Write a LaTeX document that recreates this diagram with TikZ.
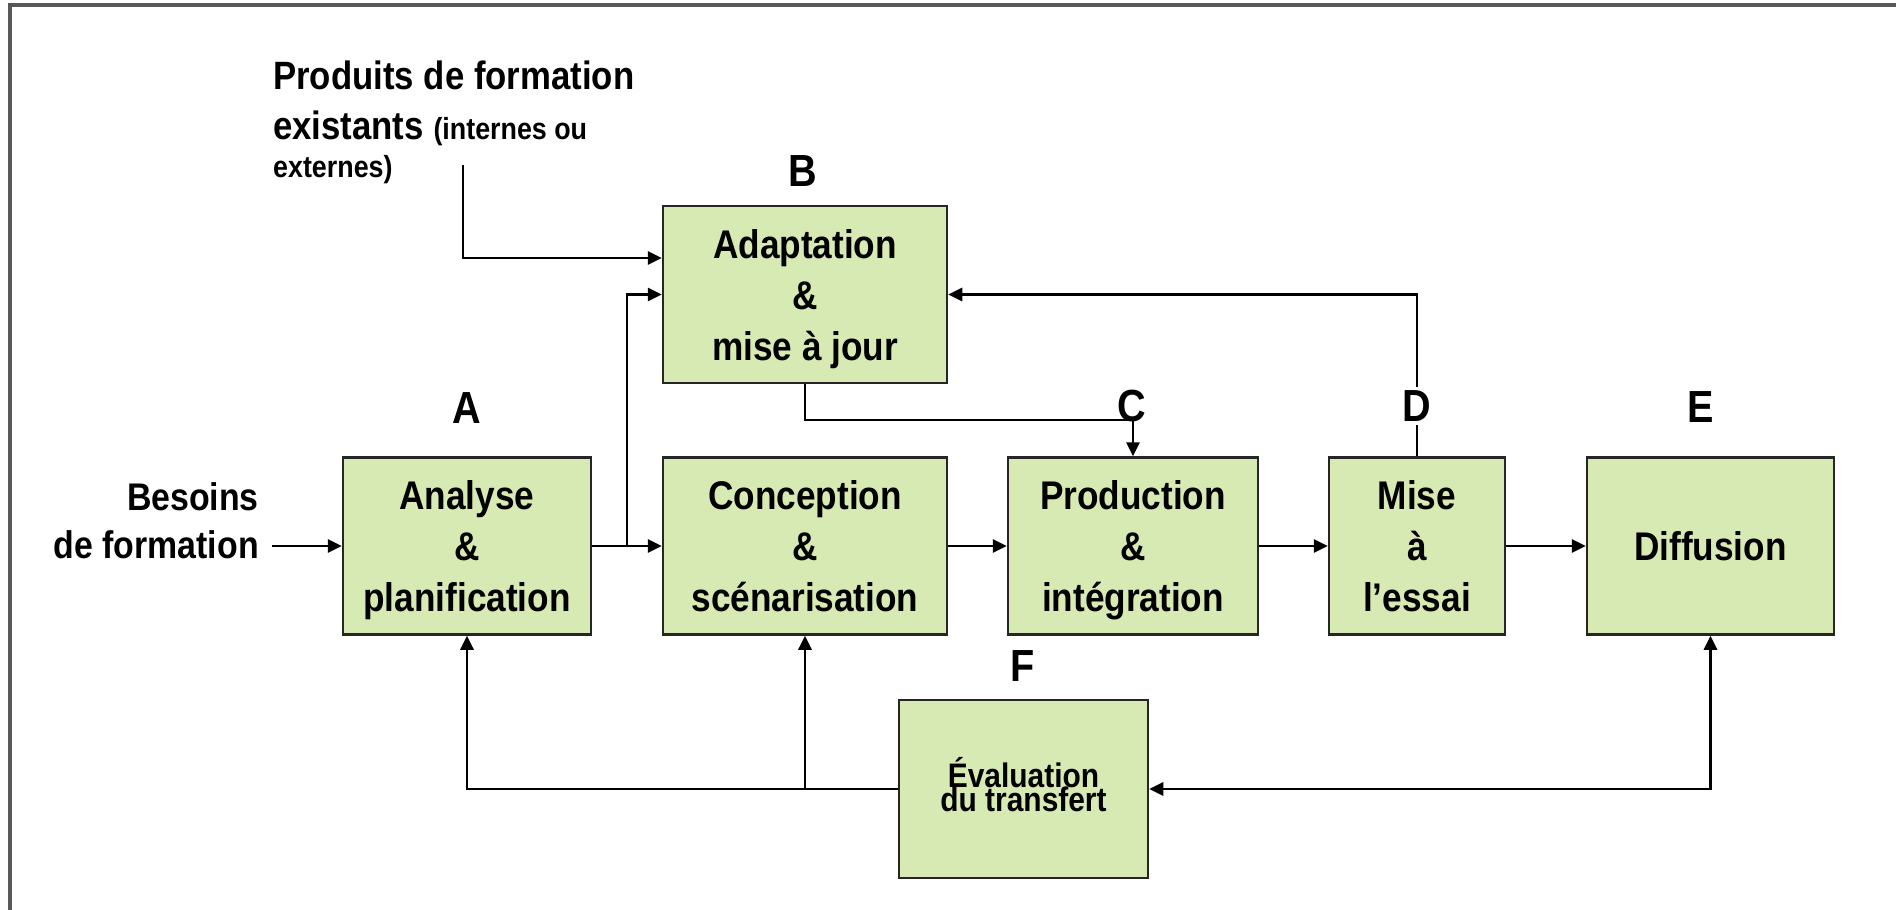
\documentclass[tikz,border=0pt]{standalone}
\usepackage{fontspec}
\setmainfont{Liberation Sans}[FakeStretch=0.88]
\usetikzlibrary{arrows.meta}

\definecolor{boxgreen}{RGB}{216,234,180}
\definecolor{framegray}{RGB}{88,88,88}

% fixed line struts so that every stage text sits at the same height
% (40pt above the baseline, 11pt below)
\newcommand\linestrut{\rule[-11pt]{0pt}{51pt}}
\newcommand\evalstrut{\rule[-10pt]{0pt}{18pt}}
% tight, overlapping line setting for the evaluation box
\newcommand\tightlines{\lineskiplimit=-100pt\relax\lineskip=0pt\relax}

\tikzset{
  stage/.style={draw=black!85, line width=2.5pt, fill=boxgreen, align=center,
    inner sep=0pt, minimum height=177pt,
    font=\bfseries\fontsize{40}{51}\selectfont},
  letter/.style={inner sep=0pt, font=\bfseries\fontsize{45}{45}\selectfont},
  plain/.style={inner sep=0pt, font=\bfseries\fontsize{39.5}{48}\selectfont},
  small/.style={inner sep=0pt, font=\bfseries\fontsize{30.5}{36}\selectfont},
  link/.style={line width=2.8pt, -{Triangle[length=14pt,width=13pt]}},
  twolink/.style={line width=2.8pt, {Triangle[length=14pt,width=13pt]}-{Triangle[length=14pt,width=13pt]}},
  frameline/.style={draw=framegray, line width=4pt}
}

\begin{document}
\begin{tikzpicture}[x=1pt,y=-1pt]
\useasboundingbox (0,0) rectangle (1896,910);

% outer frame (top and left edges)
\draw[frameline] (10,910) -- (10,5) -- (1896,5);

% process stages
\node[stage, minimum width=284pt] (B) at (805,294.5)
  {\linestrut Adaptation\\\linestrut\&\\\linestrut mise à jour};
\node[stage, minimum width=248pt] (A) at (467,546)
  {\linestrut Analyse\\\linestrut\&\\\linestrut planification};
\node[stage, minimum width=284pt] (Conc) at (805,546)
  {\linestrut Conception\\\linestrut\&\\\linestrut scénarisation};
\node[stage, minimum width=250pt] (Prod) at (1133,546)
  {\linestrut Production\\\linestrut\&\\\linestrut intégration};
\node[stage, minimum width=176pt] (Mise) at (1417,546)
  {\linestrut Mise\\\linestrut à\\\linestrut l’essai};
\node[stage, minimum width=247pt] (Diff) at (1710.5,546) {Diffusion};
\node[stage, minimum width=249pt, minimum height=178pt,
      font=\bfseries\fontsize{34}{24}\selectfont\tightlines]
  (F) at (1023.5,789) {\evalstrut Évaluation\\\evalstrut du transfert};

% inputs
\node[plain, anchor=base west] (prod1) at (273,89) {Produits de formation};
\node[plain, anchor=base west] (prod2) at (273,139) {existants {\fontsize{30.5}{36}\selectfont (internes ou}};
\node[small, anchor=base west] (prod3) at (273,177) {externes)};
\node[plain, font=\bfseries\fontsize{38.5}{48}\selectfont, anchor=base east] (bes1) at (259,510) {Besoins};
\node[plain, font=\bfseries\fontsize{38.5}{48}\selectfont, anchor=base east] (bes2) at (259,558) {de formation};

% helper points
\coordinate (besIn) at (272,546);
\coordinate (prodIn) at (463,165);
\coordinate (prodY) at (0,258);
\coordinate (branch) at (627,546);
\coordinate (cY) at (0,420);

% connectors
\draw[link] (besIn) -- (A.west);
\draw[link] (A.east) -- (Conc.west);
\draw[link] (branch) |- (B.west);
\draw[link] (prodIn) |- (B.west |- prodY);
\draw[link] (B.south) |- (Prod.north |- cY) -- (Prod.north);
\draw[link] (Conc.east) -- (Prod.west);
\draw[link] (Prod.east) -- (Mise.west);
\draw[link] (Mise.east) -- (Diff.west);
\draw[link] (Mise.north) |- (B.east);
\draw[link] (F.west) -| (A.south);
\draw[link] (F.west -| Conc.south) -- (Conc.south);
\draw[twolink] (F.east) -| (Diff.south);

% stage letters
\node[letter] (lB) at (803,171) {B};
\node[letter] (lA) at (467,408) {A};
\node[letter] (lC) at (1132,406) {C};
\node[letter, fill=white, inner ysep=4pt, inner xsep=2pt] (lD) at (1417,406) {D};
\node[letter] (lE) at (1701,407) {E};
\node[letter] (lF) at (1023,666) {F};
\end{tikzpicture}
\end{document}
